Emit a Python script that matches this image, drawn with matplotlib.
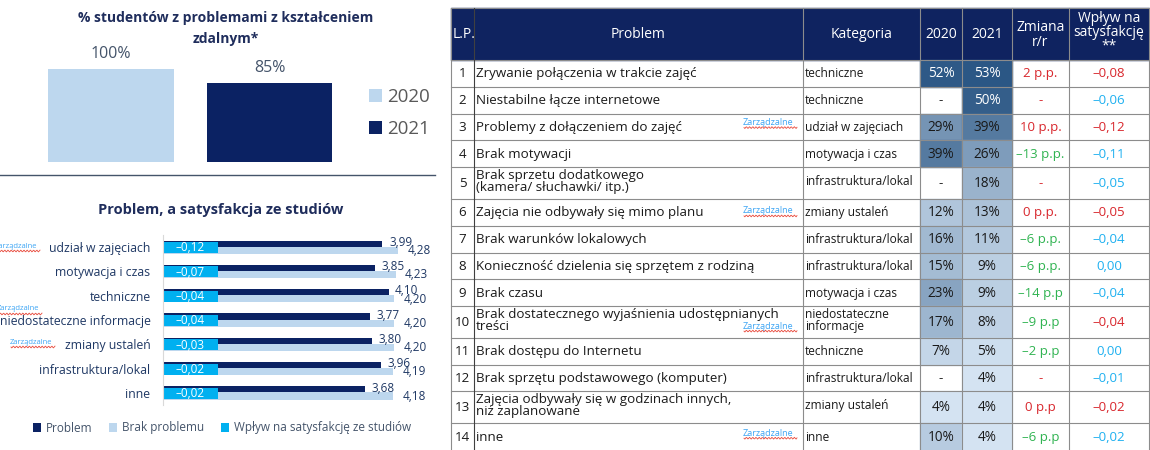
import matplotlib
matplotlib.use('Agg')
import matplotlib.pyplot as plt
import numpy as np
from matplotlib.patches import Rectangle

plt.rcParams['font.family'] = ['Open Sans', 'DejaVu Sans']

# --- top-left: share of students with problems
years = ['2020', '2021']
share = [100, 85]

# --- bottom-left: problem vs satisfaction
sat_cats = ['udział w zajęciach', 'motywacja i czas', 'techniczne',
            'niedostateczne informacje', 'zmiany ustaleń',
            'infrastruktura/lokal', 'inne']
sat_problem = [3.99, 3.85, 4.10, 3.77, 3.80, 3.96, 3.68]
sat_no_problem = [4.28, 4.23, 4.20, 4.20, 4.20, 4.19, 4.18]
sat_impact = [-0.12, -0.07, -0.04, -0.04, -0.03, -0.02, -0.02]

# --- table
lp = list(range(1, 15))
problems = ['Zrywanie połączenia w trakcie zajęć',
            'Niestabilne łącze internetowe',
            'Problemy z dołączeniem do zajęć',
            'Brak motywacji',
            'Brak sprzetu dodatkowego\n(kamera/ słuchawki/ itp.)',
            'Zajęcia nie odbywały się mimo planu',
            'Brak warunków lokalowych',
            'Konieczność dzielenia się sprzętem z rodziną',
            'Brak czasu',
            'Brak dostatecznego wyjaśnienia udostępnianych\ntreści',
            'Brak dostępu do Internetu',
            'Brak sprzętu podstawowego (komputer)',
            'Zajęcia odbywały się w godzinach innych,\nniż zaplanowane',
            'inne']
categories = ['techniczne', 'techniczne', 'udział w zajęciach', 'motywacja i czas',
              'infrastruktura/lokal', 'zmiany ustaleń', 'infrastruktura/lokal',
              'infrastruktura/lokal', 'motywacja i czas', 'niedostateczne\ninformacje',
              'techniczne', 'infrastruktura/lokal', 'zmiany ustaleń', 'inne']
v2020 = [52, None, 29, 39, None, 12, 16, 15, 23, 17, 7, None, 4, 10]
v2021 = [53, 50, 39, 26, 18, 13, 11, 9, 9, 8, 5, 4, 4, 4]
change = ['2 p.p.', '-', '10 p.p.', '-13 p.p.', '-', '0 p.p.', '-6 p.p.', '-6 p.p.',
          '-14 p.p', '-9 p.p', '-2 p.p', '-', '0 p.p', '-6 p.p']
impact = [-0.08, -0.06, -0.12, -0.11, -0.05, -0.05, -0.04, 0.00, -0.04, -0.04,
          0.00, -0.01, -0.02, -0.02]
impact_red = [True, False, True, False, False, True, False, False, False, True,
              False, False, True, False]
managed_rows = [3, 6, 10, 14]

NAVY = '#0b2263'
LIGHT = '#bdd7ee'
CYAN = '#00b0f0'
TXT = '#1f3864'
RED = '#d8262c'
GREEN = '#2fb350'
BLUE = '#1eb0f0'
W, H = 1150, 450


def fx(px):
    return px / W


def fy(py):
    return 1 - py / H


fig = plt.figure(figsize=(11.5, 4.5), dpi=100)

# top-left bar chart
ax1 = fig.add_axes([fx(15.6), fy(162), (365 - 15.6) / W, (162 - 50) / H])
for i, (yr, v, c) in enumerate(zip(years, share, [LIGHT, NAVY])):
    ax1.bar(i, v, width=0.79, color=c, label=yr)
    ax1.annotate(f'{v}%', (i, v), xytext=(0, 5), textcoords='offset points',
                 ha='center', va='bottom', fontsize=11.5, color='#44546a')
ax1.set_xlim(-0.6, 1.6)
ax1.set_ylim(0, 120)
ax1.axis('off')
fig.legend(loc='center left', bbox_to_anchor=(fx(352), fy(113)), frameon=False,
           fontsize=13.5, labelcolor='#595959', handlelength=0.7, handleheight=0.7,
           handletextpad=0.3, labelspacing=0.75)

# bottom-left horizontal bars
ax2 = fig.add_axes([fx(163), fy(405), (430 - 163) / W, (405 - 235) / H])
y = np.arange(len(sat_cats))
ax2.barh(y - 0.14, sat_problem, height=0.26, color=NAVY, label='Problem')
ax2.barh(y + 0.13, sat_no_problem, height=0.29, color=LIGHT, label='Brak problemu')
ax2.barh(y + 0.02, 1.0, height=0.45, color=CYAN, label='Wpływ na satysfakcję ze studiów')
for yi, p, n, imp in zip(y, sat_problem, sat_no_problem, sat_impact):
    ax2.text(p + 0.12, yi - 0.2, f'{p:.2f}'.replace('.', ','), ha='left', va='center',
             fontsize=8.5, color=TXT)
    ax2.text(n + 0.17, yi + 0.14, f'{n:.2f}'.replace('.', ','), ha='left', va='center',
             fontsize=8.5, color=TXT)
    ax2.text(0.5, yi + 0.03, f'{imp:.2f}'.replace('.', ',').replace('-', '–'),
             ha='center', va='center', fontsize=8.5, color='white')
ax2.set_xlim(0, 267 / 55)
ax2.set_ylim(6.5, -0.5)
ax2.set_yticks(y)
ax2.set_yticklabels(sat_cats, fontsize=8.8, color=TXT)
ax2.set_xticks([])
ax2.tick_params(axis='y', length=0, pad=9)
for s in ['top', 'right', 'bottom']:
    ax2.spines[s].set_visible(False)
ax2.spines['left'].set_color('#d9d9d9')
h, l = ax2.get_legend_handles_labels()
fig.legend(h, l, loc='center', bbox_to_anchor=(fx(222), fy(428)), ncol=3,
           frameon=False, fontsize=8.5, labelcolor='#44546a', handlelength=0.7,
           handleheight=0.7, handletextpad=0.4, columnspacing=1.4)

# overlay in pixel coordinates: titles, separator, table, tags
ov = fig.add_axes([0, 0, 1, 1], zorder=5)
ov.set_xlim(0, W)
ov.set_ylim(H, 0)
ov.axis('off')

ov.text(226, 28.5, '% studentów z problemami z kształceniem\nzdalnym*', ha='center',
        va='center', fontsize=10, fontweight='bold', color='#1f2d5c', linespacing=1.6)
ov.text(221, 210, 'Problem, a satysfakcja ze studiów', ha='center', va='center',
        fontsize=10.5, fontweight='bold', color='#1f2d5c')
ov.plot([0, 435], [175, 175], color='#44546a', lw=1)


def squiggle(x0, x1, yy):
    xs = np.linspace(x0, x1, 60)
    ov.plot(xs, yy + 0.9 * np.sin((xs - x0) * np.pi / 1.6), color='#e84a3c', lw=0.6)


def tag(x0, yy, size):
    return ov.text(x0, yy, 'Zarządzalne', ha='left', va='center', fontsize=size,
                   color='#3da5f4', zorder=4)


# table geometry
cols = [451, 474, 803, 920, 962, 1012, 1069, 1149]
top, head_b = 8, 60
two_line = ['\n' in p or '\n' in c for p, c in zip(problems, categories)]
hts = np.array([32 if t else 27 for t in two_line], float)
hts *= (H - head_b) / hts.sum()
edges = np.concatenate([[head_b], head_b + np.cumsum(hts)])

light_c = np.array([0.83, 0.89, 0.95])
dark_c = np.array([0.17, 0.34, 0.52])


def heat(v):
    t = (v - 4) / (53 - 4)
    return tuple(light_c + (dark_c - light_c) * t ** 0.85)


ov.add_patch(Rectangle((cols[0], top), cols[-1] - cols[0], head_b - top,
                       color='#0f2360', zorder=1))
hdr = dict(color='white', fontsize=10, va='center', zorder=3)
ov.text(cols[0] + 2, 34, 'L.P.', ha='left', **hdr)
ov.text((cols[1] + cols[2]) / 2, 34, 'Problem', ha='center', **hdr)
ov.text((cols[2] + cols[3]) / 2, 34, 'Kategoria', ha='center', **hdr)
ov.text((cols[3] + cols[4]) / 2, 34, '2020', ha='center', **hdr)
ov.text((cols[4] + cols[5]) / 2, 34, '2021', ha='center', **hdr)
ov.text((cols[5] + cols[6]) / 2, 35, 'Zmiana\nr/r', ha='center', linespacing=0.95, **hdr)
ov.text((cols[6] + cols[7]) / 2, 32, 'Wpływ na\nsatysfakcję\n**', ha='center',
        linespacing=0.9, **hdr)

body = dict(fontsize=9.6, va='center', color='#1a1a1a', zorder=3)
for i in range(len(lp)):
    y0, y1 = edges[i], edges[i + 1]
    yc = (y0 + y1) / 2 + 0.5
    yt = yc - 2 if two_line[i] else yc
    for j, v in ((3, v2020[i]), (4, v2021[i])):
        xc = (cols[j] + cols[j + 1]) / 2
        if v is None:
            ov.text(xc, yc, '-', ha='center', **body)
        else:
            ov.add_patch(Rectangle((cols[j], y0), cols[j + 1] - cols[j], y1 - y0,
                                   color=heat(v), zorder=1))
            ov.text(xc, yc, f'{v}%', ha='center', fontsize=9.8, va='center', zorder=3,
                    color='white' if v >= 45 else '#1a1a1a')
    ov.text((cols[0] + cols[1]) / 2, yc, str(lp[i]), ha='center', **body)
    ov.text(cols[1] + 2, yt, problems[i], ha='left', linespacing=0.88, **body)
    ov.text(cols[2] + 2, yt, categories[i], ha='left', linespacing=0.88,
            fontsize=8.6, va='center', color='#1a1a1a', zorder=3)
    ch = change[i]
    ch_col = GREEN if (ch.startswith('-') and len(ch) > 1) else RED
    ov.text((cols[5] + cols[6]) / 2, yc, ch.replace('-', '–') if len(ch) > 1 else ch,
            ha='center', fontsize=9.5, va='center', color=ch_col, zorder=3)
    ov.text((cols[6] + cols[7]) / 2, yc, f'{impact[i]:.2f}'.replace('.', ',').replace('-', '–'),
            ha='center', fontsize=9.5, va='center', zorder=3,
            color=RED if impact_red[i] else BLUE)

for e in edges[:-1]:
    ov.plot([cols[0], cols[-1]], [e, e], color='#8c8c8c', lw=0.8, zorder=2)
ov.plot([cols[0], cols[-1]], [top, top], color='#8c8c8c', lw=0.8, zorder=2)
for k, c in enumerate(cols):
    ov.plot([c, c], [top, H], color='#404040' if k == 1 else '#8c8c8c', lw=0.8, zorder=2)

# "Zarządzalne" tags
tag_off = {3: 9, 6: 12, 10: 20, 14: 10}
for r in managed_rows:
    yy = edges[r - 1] + tag_off[r]
    tag(743, yy, 6.5)
    squiggle(744, 797, yy + 5)
for x0, yy in ((-5, 246), (-3, 309), (10, 342)):
    tag(x0, yy, 5.5)
    squiggle(x0 + 1, x0 + 45, yy + 5)

fig.savefig('out.png', dpi=100)
